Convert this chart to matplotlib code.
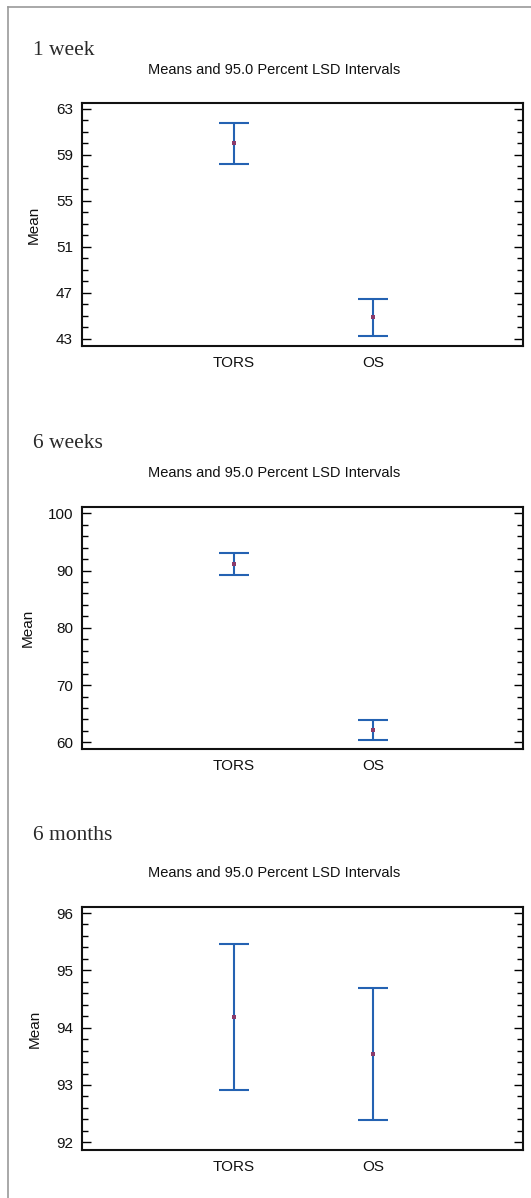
import matplotlib
matplotlib.use("Agg")
import matplotlib.pyplot as plt
from matplotlib.lines import Line2D
from matplotlib.ticker import MultipleLocator

# Group labels and LSD interval data for each follow-up time
groups = ["TORS", "OS"]

week1_mean = [60.0, 44.85]
week1_lsd = [1.80, 1.61]

week6_mean = [91.12, 62.15]
week6_lsd = [1.95, 1.72]

month6_mean = [94.19, 93.54]
month6_lsd = [1.27, 1.15]

headings = ["1 week", "6 weeks", "6 months"]
title = "Means and 95.0 Percent LSD Intervals"

W, H = 531, 1198
DPI = 100
fig = plt.figure(figsize=(W / DPI, H / DPI), dpi=DPI)
fig.patch.set_facecolor("white")

SANS = "Liberation Sans"
SERIF = "Liberation Serif"
BLUE = "#2462b2"
DOT = "#8a3a6a"


def px_axes(left, top, right, bottom):
    return fig.add_axes([left / W, 1 - bottom / H, (right - left) / W, (bottom - top) / H])


def fy(y):
    return 1 - y / H


def fx(x):
    return x / W


# panel layout: (axes top, axes bottom, heading baseline, title baseline, ylabel x)
panels = [
    dict(mean=week1_mean, lsd=week1_lsd, top=103, bottom=346, head=55, ttl=74,
         ylab_x=34, ylim=(42.37, 63.5), major=4, minor=1, ticks=[43, 47, 51, 55, 59, 63]),
    dict(mean=week6_mean, lsd=week6_lsd, top=507, bottom=749, head=448, ttl=477,
         ylab_x=27.5, ylim=(58.83, 101.1), major=10, minor=2, ticks=[60, 70, 80, 90, 100]),
    dict(mean=month6_mean, lsd=month6_lsd, top=907, bottom=1150, head=840, ttl=877,
         ylab_x=34.5, ylim=(91.866, 96.105), major=1, minor=0.2, ticks=[92, 93, 94, 95, 96]),
]

xpos = [1, 2]

for p, head in zip(panels, headings):
    ax = px_axes(82, p["top"], 523, p["bottom"])
    ax.errorbar(xpos, p["mean"], yerr=p["lsd"], fmt="none", ecolor=BLUE,
                elinewidth=1.5, capsize=10.5, capthick=1.5)
    ax.plot(xpos, p["mean"], linestyle="none", marker="s", markersize=2.4,
            color=DOT, markeredgewidth=0, zorder=5)
    ax.set_xlim(-0.09, 3.08)
    ax.set_ylim(*p["ylim"])
    ax.set_xticks(xpos)
    ax.set_xticklabels(groups)
    ax.set_yticks(p["ticks"])
    ax.yaxis.set_minor_locator(MultipleLocator(p["minor"]))
    ax.tick_params(axis="x", length=0, pad=7, labelsize=11)
    ax.tick_params(axis="y", which="major", direction="in", length=6.5, width=1.0,
                   left=True, right=True, pad=6.5, labelsize=11)
    ax.tick_params(axis="y", which="minor", direction="in", length=4, width=1.0,
                   left=True, right=True)
    for lab in ax.get_xticklabels() + ax.get_yticklabels():
        lab.set_fontfamily(SANS)
        lab.set_color("#111111")
    for s in ax.spines.values():
        s.set_linewidth(1.5)
        s.set_color("#111111")

    fig.text(fx(33), fy(p["head"]), head, family=SERIF, fontsize=15.5,
             color="#2a2a2a", ha="left", va="baseline")
    fig.text(fx(274), fy(p["ttl"]), title, family=SANS, fontsize=10.5,
             color="#111111", ha="center", va="baseline")
    fig.text(fx(p["ylab_x"]), fy((p["top"] + p["bottom"]) / 2), "Mean", family=SANS,
             fontsize=11, color="#111111", rotation=90, ha="center", va="center")

# outer frame: top and left edges
fig.add_artist(Line2D([fx(8), 1.0], [fy(7), fy(7)], color="#9a9a9a", linewidth=1.2,
                      transform=fig.transFigure))
fig.add_artist(Line2D([fx(8), fx(8)], [fy(7), 0.0], color="#9a9a9a", linewidth=1.2,
                      transform=fig.transFigure))

fig.savefig("out.png", dpi=DPI, facecolor="white")
